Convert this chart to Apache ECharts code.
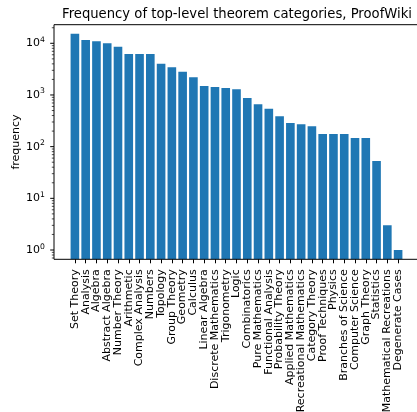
<!DOCTYPE html>
<html>
<head>
<meta charset="utf-8">
<script src="https://cdn.jsdelivr.net/npm/echarts@6/dist/echarts.min.js"></script>
<style>
html,body{margin:0;padding:0;background:#fff;}
#chart{width:417px;height:412px;}
</style>
</head>
<body>
<div id="chart"></div>
<script>
const categories = ["Set Theory","Analysis","Algebra","Abstract Algebra","Number Theory","Arithmetic","Complex Analysis","Numbers","Topology","Group Theory","Geometry","Calculus","Linear Algebra","Discrete Mathematics","Trigonometry","Logic","Combinatorics","Pure Mathematics","Functional Analysis","Probability Theory","Applied Mathematics","Recreational Mathematics","Category Theory","Proof Techniques","Physics","Branches of Science","Computer Science","Graph Theory","Statistics","Mathematical Recreations","Degenerate Cases"];
const frequency = [15300,11600,10900,10000,8600,6200,6200,6200,4030,3430,2820,2200,1490,1430,1370,1290,875,660,543,387,288,271,248,176,176,176,147,147,53,3,1];
const yMajorTicks = [1,10,100,1000,10000];
const titleText = "Frequency of top-level theorem categories, ProofWiki";
const yName = "frequency";

const Y_MIN = 0.661, Y_MAX = 22900;
const minorTicks = [];
for (const m of [0.1].concat(yMajorTicks)) {
  for (let k = 2; k <= 9; k++) {
    const v = m * k;
    if (v > Y_MIN && v < Y_MAX) minorTicks.push(v);
  }
}
const tickData = yMajorTicks.map(v => [0, v, 1]).concat(minorTicks.map(v => [0, v, 0]));

const FONT = 'DejaVu Sans';
const TOP = 24.7, HEIGHT = 234.6;
const FRAME_LEFT = 54, FRAME_WIDTH = 365;
const BAND = FRAME_WIDTH / 33.88;
const BAR_LEFT = FRAME_LEFT + 1.94 * BAND - BAND / 2;

const chart = echarts.init(document.getElementById('chart'), null, {renderer: 'canvas'});
chart.setOption({
  animation: false,
  backgroundColor: '#fff',
  textStyle: {fontFamily: FONT},
  title: {
    text: titleText,
    left: 237,
    textAlign: 'center',
    top: 8,
    padding: 0,
    textStyle: {fontFamily: FONT, fontSize: 13.2, fontWeight: 'normal', color: '#000'}
  },
  grid: [
    {left: BAR_LEFT, width: BAND * categories.length, top: TOP, height: HEIGHT, containLabel: false, outerBoundsMode: 'none'},
    {left: FRAME_LEFT, width: FRAME_WIDTH, top: TOP, height: HEIGHT, containLabel: false, outerBoundsMode: 'none',
     show: true, borderColor: '#000', borderWidth: 1, backgroundColor: 'transparent', z: 10}
  ],
  xAxis: [
    {
      type: 'category', gridIndex: 0, data: categories,
      axisLine: {show: false},
      axisTick: {show: true, alignWithLabel: true, length: 4, lineStyle: {color: '#000', width: 1}},
      axisLabel: {interval: 0, rotate: 90, fontSize: 11, color: '#000', fontFamily: FONT, margin: 10, hideOverlap: false},
      splitLine: {show: false}
    },
    {type: 'value', gridIndex: 1, min: 0, max: 1, show: false}
  ],
  yAxis: [
    {type: 'log', gridIndex: 0, min: Y_MIN, max: Y_MAX, show: false},
    {
      type: 'log', gridIndex: 1, min: Y_MIN, max: Y_MAX,
      name: yName, nameLocation: 'middle', nameGap: 32, nameMoveOverlap: false,
      nameTextStyle: {fontFamily: FONT, fontSize: 11, color: '#000'},
      axisLine: {show: false},
      axisTick: {show: false},
      splitLine: {show: false},
      minorTick: {show: false},
      axisLabel: {
        margin: 9, color: '#000',
        showMinLabel: false, showMaxLabel: false,
        formatter: function (v) {
          const l = Math.log10(v);
          const e = Math.round(l);
          if (Math.abs(l - e) > 1e-6) return '';
          return '{b|10}{s|' + e + '}';
        },
        rich: {
          b: {fontSize: 11, fontFamily: FONT, color: '#000'},
          s: {fontSize: 7.7, fontFamily: FONT, color: '#000', padding: [0, 0, 7, 0]}
        }
      }
    }
  ],
  series: [
    {
      type: 'custom', xAxisIndex: 0, yAxisIndex: 0,
      data: frequency.map((v, i) => [i, v]),
      clip: true,
      renderItem: function (params, api) {
        const top = api.coord([api.value(0), api.value(1)]);
        const band = api.size([1, 0])[0];
        const w = band * 0.8;
        const bottom = params.coordSys.y + params.coordSys.height;
        return {
          type: 'rect',
          shape: {x: top[0] - w / 2, y: top[1], width: w, height: bottom - top[1]},
          style: {fill: '#1f77b4'}
        };
      }
    },
    {
      type: 'custom', xAxisIndex: 1, yAxisIndex: 1, data: tickData, clip: false, z: 20,
      renderItem: function (params, api) {
        const p = api.coord([api.value(0), api.value(1)]);
        const len = api.value(2) ? 3.8 : 2.2;
        return {
          type: 'line',
          shape: {x1: p[0] - len, y1: p[1], x2: p[0], y2: p[1]},
          style: {stroke: '#000', lineWidth: api.value(2) ? 1 : 0.7}
        };
      }
    }
  ]
});
</script>
</body>
</html>
